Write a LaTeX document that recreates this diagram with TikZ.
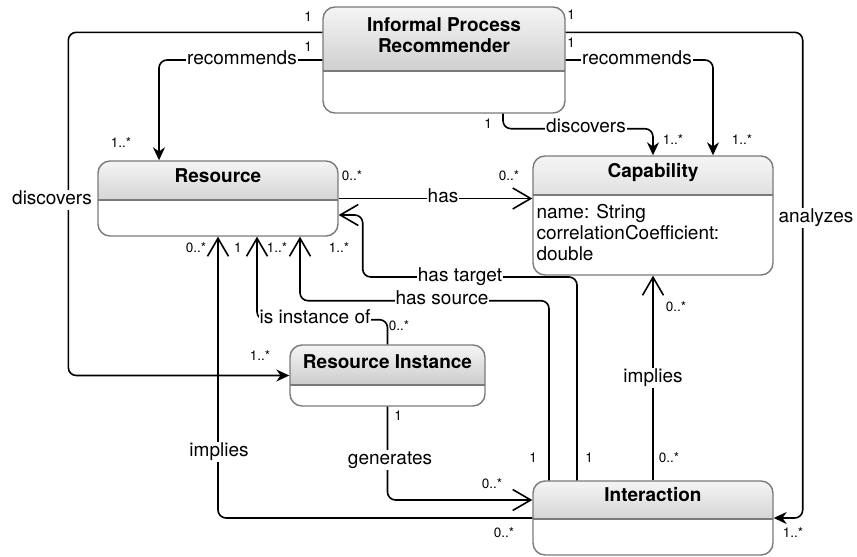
\documentclass[tikz,border=0pt]{standalone}
\usepackage{fontspec}
\setmainfont{TeX Gyre Heros}
\usetikzlibrary{arrows.meta,positioning}
\definecolor{boxgray}{RGB}{122,122,122}
\definecolor{hdtop}{RGB}{245,245,245}
\definecolor{hdbot}{RGB}{182,182,182}
\tikzset{umlclass/.style={draw=boxgray, line width=1.4pt, rounded corners=12pt, fill=white, inner sep=0pt,
  path picture={
    \shade[sharp corners, top color=hdtop, bottom color=hdbot] (path picture bounding box.north west) rectangle ([yshift=-#1]path picture bounding box.north east);
    \draw[sharp corners, boxgray, line width=1.4pt] ([yshift=-#1]path picture bounding box.north west) -- ([yshift=-#1]path picture bounding box.north east);
  }}}
\tikzstyle{classname} = [font=\bfseries\fontsize{19}{21}\selectfont, align=center, inner sep=0pt]
\tikzstyle{attrs} = [font=\fontsize{19}{21}\selectfont, align=left, inner sep=2pt]
\tikzstyle{lbl} = [font=\fontsize{19}{21}\selectfont, fill=white, inner sep=1pt, text height=13.5pt, text depth=4pt]
\tikzstyle{mult} = [font=\fontsize{13.5}{15}\selectfont, inner sep=0pt]
\tikzstyle{assoc} = [line width=1.6pt, rounded corners=8pt]
\tikzstyle{navfilled} = [assoc, -{Stealth[length=13pt,width=12pt]}]
\tikzstyle{navopen} = [assoc, -{Straight Barb[length=18pt,width=21pt]}]

\begin{document}
\begin{tikzpicture}[x=1pt, y=-1pt]
\useasboundingbox (0,0) rectangle (857,557);

% classes
\node[umlclass=64pt, minimum width=242pt, minimum height=106pt] (ipr) at (444,60) {};
\node[umlclass=39pt, minimum width=240pt, minimum height=75pt] (res) at (218,198.5) {};
\node[umlclass=39pt, minimum width=240pt, minimum height=119pt] (cap) at (653,215.5) {};
\node[umlclass=40pt, minimum width=195pt, minimum height=61pt] (ri) at (387.5,375.5) {};
\node[umlclass=38pt, minimum width=240pt, minimum height=74pt] (inter) at (653,518) {};

\node[classname] (iprname) at ([yshift=-28.5pt]ipr.north) {Informal Process\\Recommender};
\node[classname, anchor=base] (resname) at ([yshift=-22pt]res.north) {Resource};
\node[classname, anchor=base] (capname) at ([yshift=-22.3pt]cap.north) {Capability};
\node[classname, anchor=base] (riname) at ([yshift=-24pt]ri.north) {Resource Instance};
\node[classname, anchor=base] (intername) at ([yshift=-21pt]inter.north) {Interaction};
\node[attrs, anchor=north west] (capattrs) at ([xshift=2pt,yshift=-47pt]cap.north west) {name: String\\correlationCoefficient:\\double};

% associations of the recommender
\draw[navfilled] ([yshift=-26pt]ipr.north east) -- ++(237,0) |- (inter.east);
\draw[navfilled] ([yshift=-26pt]ipr.north west) -- ++(-254,0) |- (ri.west);
\draw[navfilled] (ipr.west) -| ([xshift=-59pt]res.north);
\draw[navfilled] (ipr.east) -| ([xshift=60pt]cap.north);
\draw[navfilled] ([xshift=59pt]ipr.south) -- ++(0,15) -| (cap.north);

% other associations
\draw[navopen] (res.east) -- (res.east -| cap.west);
\draw[navopen] ([xshift=-76pt]inter.north) |- ([xshift=24pt,yshift=-78.5pt]res.east) -- ([xshift=24pt,yshift=-16.5pt]res.east) -- ([yshift=-16.5pt]res.east);
\draw[navopen] ([xshift=-104pt]inter.north) |- ([xshift=82pt,yshift=-64pt]res.south) -- ([xshift=82pt]res.south);
\draw[navopen] (ri.north) |- ([xshift=39pt,yshift=-83pt]res.south) -- ([xshift=39pt]res.south);
\draw[navopen] (inter.west) -| (res.south);
\draw[navopen] (ri.south) |- ([yshift=18pt]inter.west);
\draw[navopen] (inter.north) -- (cap.south);

% association names
\node[lbl] (recres) at (242,60) {recommends};
\node[lbl] (reccap) at (637,60) {recommends};
\node[lbl] (discri) at (52,200) {discovers};
\node[lbl] (disccap) at (586,128) {discovers};
\node[lbl] (analyzes) at (816,218) {analyzes};
\node[lbl] (has) at (443,198) {has};
\node[lbl] (hastarget) at (460,277) {has target};
\node[lbl] (hassource) at (442,300) {has source};
\node[lbl] (isinst) at (315,319) {is instance of};
\node[lbl] (impres) at (219,452) {implies};
\node[lbl] (generates) at (390,460) {generates};
\node[lbl] (impcap) at (653,378) {implies};

% multiplicities
\node[mult] (m1) at (308,17) {1};
\node[mult] (m2) at (308,47) {1};
\node[mult] (m3) at (571,15) {1};
\node[mult] (m4) at (571,43) {1};
\node[mult] (m5) at (488,124) {1};
\node[mult] (m6) at (673,140) {1..*};
\node[mult] (m7) at (742,140) {1..*};
\node[mult] (m8) at (121,143) {1..*};
\node[mult] (m9) at (352,176) {0..*};
\node[mult] (m10) at (509,176) {0..*};
\node[mult] (m11) at (196,248) {0..*};
\node[mult] (m12) at (238,248) {1};
\node[mult] (m13) at (277,248) {1..*};
\node[mult] (m14) at (339,248) {1..*};
\node[mult] (m15) at (399,326) {0..*};
\node[mult] (m16) at (260,356) {1..*};
\node[mult] (m17) at (398,416) {1};
\node[mult] (m18) at (492,484) {0..*};
\node[mult] (m19) at (533,458) {1};
\node[mult] (m20) at (589,458) {1};
\node[mult] (m21) at (669,458) {0..*};
\node[mult] (m22) at (504,533) {0..*};
\node[mult] (m23) at (793,533) {1..*};
\node[mult] (m24) at (676,307) {0..*};
\end{tikzpicture}
\end{document}
